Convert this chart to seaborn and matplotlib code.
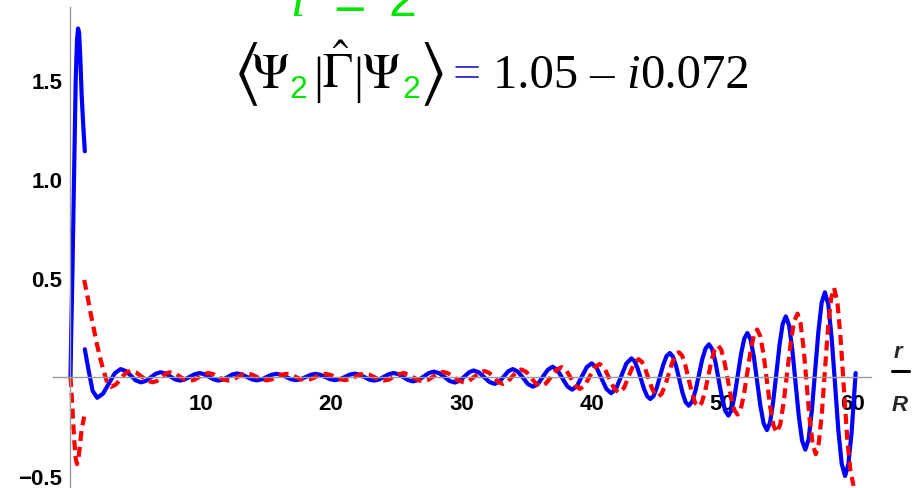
import matplotlib
matplotlib.use('Agg')
import matplotlib.pyplot as plt
from matplotlib.lines import Line2D
import seaborn as sns

# radial coordinate r/R; the branch inside the core (r < R) is kept apart
blue_in_x = [0.0, 0.05, 0.14, 0.27, 0.4, 0.5, 0.58, 0.66, 0.75, 0.86, 0.98, 1.1]
blue_in_y = [0.0, 0.2, 0.5, 1.0, 1.5, 1.7, 1.76, 1.74, 1.62, 1.42, 1.27, 1.14]

red_in_x = [0.0, 0.1, 0.2, 0.3, 0.4, 0.5, 0.6, 0.7, 0.85, 1.05]
red_in_y = [0.0, -0.1, -0.22, -0.33, -0.41, -0.44, -0.42, -0.36, -0.27, -0.2]

# outside the core (one row per half wave)
blue_out_x = [
    1.1, 1.4, 1.7, 2.05, 2.5, 2.95, 3.4, 3.85,
    4.24, 4.63, 5.01, 5.4, 5.78, 6.15, 6.53, 6.9,
    7.28, 7.65, 8.03, 8.4, 8.78, 9.15, 9.53, 9.9,
    10.26, 10.63, 10.99, 11.35, 11.71, 12.08, 12.44, 12.8,
    13.18, 13.55, 13.93, 14.3, 14.68, 15.05, 15.43, 15.8,
    16.18, 16.55, 16.93, 17.3, 17.68, 18.05, 18.43, 18.8,
    19.18, 19.55, 19.93, 20.3, 20.68, 21.05, 21.43, 21.8,
    22.18, 22.55, 22.93, 23.3, 23.68, 24.05, 24.43, 24.8,
    25.18, 25.55, 25.93, 26.3, 26.7, 27.1, 27.5, 27.9,
    28.3, 28.7, 29.1, 29.5, 29.86, 30.23, 30.59, 30.95,
    31.35, 31.75, 32.15, 32.55, 32.9, 33.25, 33.6, 33.95,
    34.34, 34.73, 35.11, 35.5, 35.88, 36.25, 36.63, 37.0,
    37.38, 37.75, 38.13, 38.5, 38.88, 39.25, 39.63, 40.0,
    40.38, 40.75, 41.13, 41.5, 41.89, 42.28, 42.66, 43.05,
    43.29, 43.53, 43.78, 44.02, 44.26, 44.5,
    44.75, 45.0, 45.25, 45.5, 45.75, 46.0,
    46.24, 46.48, 46.73, 46.97, 47.21, 47.45,
    47.71, 47.97, 48.23, 48.48, 48.74, 49.0,
    49.25, 49.5, 49.75, 50.0, 50.25, 50.5,
    50.74, 50.98, 51.23, 51.47, 51.71, 51.95,
    52.2, 52.45, 52.7, 52.95, 53.2, 53.45,
    53.69, 53.93, 54.18, 54.42, 54.66, 54.9,
    55.15, 55.4, 55.65, 55.9, 56.15, 56.4,
    56.65, 56.9, 57.15, 57.4, 57.65, 57.9,
    58.16, 58.42, 58.68, 58.93, 59.19, 59.45,
    59.7, 59.95, 60.15, 60.26]
blue_out_y = [
    0.14, 0.03, -0.07, -0.105, -0.084, -0.033, 0.019, 0.04,
    0.03, 0.007, -0.017, -0.027, -0.02, -0.002, 0.016, 0.024,
    0.018, 0.003, -0.012, -0.018, -0.012, 0.001, 0.014, 0.02,
    0.014, 0.001, -0.012, -0.018, -0.013, 0.0, 0.013, 0.018,
    0.012, 0.0, -0.012, -0.017, -0.012, 0.0, 0.011, 0.016,
    0.011, 0.0, -0.011, -0.016, -0.011, 0.0, 0.011, 0.016,
    0.011, 0.0, -0.011, -0.016, -0.011, 0.0, 0.012, 0.017,
    0.012, 0.0, -0.013, -0.018, -0.013, 0.001, 0.014, 0.02,
    0.014, -0.001, -0.016, -0.022, -0.015, 0.002, 0.02, 0.027,
    0.019, 0.0, -0.02, -0.028, -0.019, 0.002, 0.024, 0.033,
    0.023, -0.001, -0.025, -0.035, -0.024, 0.002, 0.029, 0.04,
    0.027, -0.004, -0.036, -0.049, -0.035, 0.001, 0.036, 0.052,
    0.035, -0.006, -0.047, -0.064, -0.045, 0.003, 0.05, 0.069,
    0.047, -0.007, -0.06, -0.082, -0.056, 0.006, 0.068, 0.094,
    0.08, 0.043, -0.009, -0.06, -0.097, -0.111,
    -0.096, -0.053, 0.005, 0.063, 0.106, 0.121,
    0.103, 0.055, -0.012, -0.079, -0.127, -0.145,
    -0.124, -0.068, 0.01, 0.088, 0.144, 0.165,
    0.141, 0.075, -0.015, -0.105, -0.171, -0.195,
    -0.167, -0.091, 0.014, 0.118, 0.194, 0.222,
    0.189, 0.1, -0.023, -0.146, -0.235, -0.268,
    -0.23, -0.125, 0.019, 0.163, 0.268, 0.306,
    0.261, 0.138, -0.031, -0.199, -0.322, -0.367,
    -0.314, -0.168, 0.031, 0.229, 0.375, 0.428,
    0.366, 0.196, -0.036, -0.268, -0.438, -0.5,
    -0.44, -0.28, -0.09, 0.02]

red_out_x = [
    1.05, 1.3, 1.55, 1.8, 2.05, 2.3, 2.55, 2.75, 2.95, 3.1,
    3.48, 3.85, 4.23, 4.6, 5.03, 5.45, 5.88, 6.3,
    6.64, 6.98, 7.31, 7.65, 8.03, 8.4, 8.78, 9.15,
    9.51, 9.88, 10.24, 10.6, 10.98, 11.35, 11.73, 12.1,
    12.46, 12.83, 13.19, 13.55, 13.93, 14.3, 14.68, 15.05,
    15.43, 15.8, 16.18, 16.55, 16.93, 17.3, 17.68, 18.05,
    18.43, 18.8, 19.18, 19.55, 19.93, 20.3, 20.68, 21.05,
    21.43, 21.8, 22.18, 22.55, 22.93, 23.3, 23.68, 24.05,
    24.43, 24.8, 25.18, 25.55, 25.93, 26.3, 26.68, 27.05,
    27.44, 27.83, 28.21, 28.6, 29.0, 29.4, 29.8, 30.2,
    30.6, 31.0, 31.4, 31.8, 32.15, 32.5, 32.85, 33.2,
    33.55, 33.9, 34.25, 34.6, 34.98, 35.35, 35.73, 36.1,
    36.5, 36.9, 37.3, 37.7, 38.05, 38.4, 38.75, 39.1,
    39.48, 39.85, 40.23, 40.6, 40.98, 41.35, 41.73, 42.1,
    42.48, 42.85, 43.23, 43.6,
    43.85, 44.1, 44.35, 44.6, 44.85, 45.1,
    45.37, 45.63, 45.9, 46.17, 46.43, 46.7,
    46.95, 47.2, 47.45, 47.7, 47.95, 48.2,
    48.45, 48.7, 48.95, 49.2, 49.45, 49.7,
    49.95, 50.2, 50.45, 50.7, 50.95, 51.2,
    51.45, 51.7, 51.95, 52.2, 52.45, 52.7,
    52.95, 53.2, 53.45, 53.7, 53.95, 54.2,
    54.47, 54.73, 55.0, 55.27, 55.53, 55.8,
    56.03, 56.27, 56.5, 56.73, 56.97, 57.2,
    57.43, 57.67, 57.9, 58.13, 58.37, 58.6,
    58.85, 59.1, 59.35, 59.6, 59.85, 60.1]
red_out_y = [
    0.49, 0.41, 0.32, 0.24, 0.16, 0.09, 0.03, -0.015, -0.042, -0.05,
    -0.038, -0.009, 0.02, 0.032, 0.023, 0.003, -0.018, -0.027,
    -0.02, -0.002, 0.017, 0.024, 0.018, 0.002, -0.014, -0.02,
    -0.014, 0.0, 0.014, 0.02, 0.014, 0.001, -0.012, -0.018,
    -0.013, 0.0, 0.013, 0.018, 0.012, 0.0, -0.012, -0.017,
    -0.012, 0.0, 0.011, 0.016, 0.011, 0.0, -0.011, -0.016,
    -0.011, 0.0, 0.011, 0.016, 0.011, 0.0, -0.011, -0.016,
    -0.011, 0.0, 0.012, 0.017, 0.012, 0.0, -0.013, -0.018,
    -0.013, 0.001, 0.014, 0.02, 0.014, -0.001, -0.016, -0.022,
    -0.015, 0.002, 0.018, 0.026, 0.018, 0.0, -0.019, -0.027,
    -0.019, 0.002, 0.021, 0.03, 0.02, -0.003, -0.026, -0.035,
    -0.025, 0.002, 0.027, 0.038, 0.026, -0.004, -0.034, -0.046,
    -0.032, 0.002, 0.036, 0.05, 0.034, -0.005, -0.044, -0.06,
    -0.042, 0.003, 0.048, 0.066, 0.045, -0.007, -0.059, -0.08,
    -0.055, 0.005, 0.065, 0.09,
    0.077, 0.043, -0.005, -0.053, -0.087, -0.1,
    -0.085, -0.044, 0.013, 0.069, 0.11, 0.125,
    0.107, 0.056, -0.013, -0.081, -0.132, -0.15,
    -0.129, -0.073, 0.005, 0.083, 0.139, 0.16,
    0.137, 0.073, -0.015, -0.103, -0.167, -0.19,
    -0.161, -0.083, 0.025, 0.133, 0.211, 0.24,
    0.205, 0.11, -0.02, -0.15, -0.245, -0.28,
    -0.24, -0.13, 0.02, 0.17, 0.28, 0.32,
    0.272, 0.143, -0.035, -0.213, -0.342, -0.39,
    -0.334, -0.18, 0.03, 0.24, 0.394, 0.45,
    0.383, 0.2, -0.05, -0.3, -0.47, -0.55]

x_major = [10, 20, 30, 40, 50, 60]
x_labels = ['10', '20', '30', '40', '50', '60']
x_minor = [2, 4, 6, 8, 12, 14, 16, 18, 22, 24, 26, 28, 32, 34, 36, 38, 42, 44, 46, 48,
           52, 54, 56, 58]
y_major = [-0.5, 0.5, 1.0, 1.5]
y_labels = ['\u22120.5', '0.5', '1.0', '1.5']
y_minor = [-0.4, -0.3, -0.2, -0.1, 0.1, 0.2, 0.3, 0.4, 0.6, 0.7, 0.8, 0.9, 1.1, 1.2,
           1.3, 1.4, 1.6, 1.7, 1.8]

sns.set_style('white')
plt.rcParams['font.family'] = ['Liberation Sans', 'DejaVu Sans']
plt.rcParams['mathtext.fontset'] = 'stix'

W, H = 913, 489
fig = plt.figure(figsize=(W / 100, H / 100), dpi=100)
ax = fig.add_axes([52.9 / W, 0, (870.5 - 52.9) / W, 481 / H])

blue = '#0000ff'
red = '#ff0000'
dash = (0, (2.4, 1.4))
sns.lineplot(x=blue_in_x, y=blue_in_y, ax=ax, color=blue, linewidth=3, estimator=None, sort=False)
sns.lineplot(x=blue_out_x, y=blue_out_y, ax=ax, color=blue, linewidth=3, estimator=None, sort=False)
sns.lineplot(x=red_in_x, y=red_in_y, ax=ax, color=red, linewidth=3, estimator=None, sort=False,
             linestyle=dash)
sns.lineplot(x=red_out_x, y=red_out_y, ax=ax, color=red, linewidth=3, estimator=None, sort=False,
             linestyle=dash)

ax.set_xlim(-1.35, 61.4)
ax.set_ylim(-0.5606, 1.8687)
ax.patch.set_alpha(0)

for side in ['top', 'right']:
    ax.spines[side].set_visible(False)
for side in ['left', 'bottom']:
    ax.spines[side].set_position(('data', 0))
    ax.spines[side].set_color('#9a9a9a')
    ax.spines[side].set_linewidth(1)

ax.set_xticks(x_major)
ax.set_xticklabels(x_labels)
ax.set_xticks(x_minor, minor=True)
ax.set_yticks(y_major)
ax.set_yticklabels(y_labels)
ax.set_yticks(y_minor, minor=True)
ax.tick_params(which='both', direction='in', color='#9a9a9a', labelcolor='black', width=1)
ax.tick_params(which='major', length=4.3)
ax.tick_params(which='minor', length=2.9)
ax.tick_params(axis='x', which='major', pad=11.5)
ax.tick_params(axis='y', which='major', pad=6)
for lab in ax.get_xticklabels() + ax.get_yticklabels():
    lab.set_fontweight('bold')
    lab.set_fontsize(16)

# axis label r/R drawn as a small fraction
fig.text(898 / W, 1 - 358 / H, 'r', fontsize=16, fontweight='bold', style='italic',
         ha='center', va='baseline')
fig.add_artist(Line2D([892 / W, 909 / W], [1 - 371.7 / H, 1 - 371.7 / H],
                      transform=fig.transFigure, color='black', linewidth=2.2))
fig.text(900 / W, 1 - 411 / H, 'R', fontsize=16, fontweight='bold', style='italic',
         ha='center', va='baseline')

# header text, placed piece by piece (pixel coords from the top left)
green = '#00e600'
renderer = fig.canvas.get_renderer()


def put(x, y, s, **kw):
    t = fig.text(x / W, 1 - y / H, s, ha='left', va='baseline', **kw)
    return x + t.get_window_extent(renderer).width


put(290, 16, 'l', fontsize=38, color=green, family='Liberation Serif', style='italic')
put(333, 20, '=', fontsize=40, color=green, family='Liberation Sans')
put(388, 16, '2', fontsize=36, color=green, family='Liberation Sans')

put(233, 91, r'$\langle$', fontsize=50, color='black')
put(251, 88, r'$\Psi$', fontsize=36, color='black')
put(289, 98, '2', fontsize=23, color=green, family='Liberation Sans')
put(313, 92, '|', fontsize=36, color='black', family='Liberation Serif')
put(322, 88, r'$\hat{\Gamma}$', fontsize=36, color='black')
put(353, 92, '|', fontsize=36, color='black', family='Liberation Serif')
put(362, 88, r'$\Psi$', fontsize=36, color='black')
put(402, 98, '2', fontsize=23, color=green, family='Liberation Sans')
put(419, 91, r'$\rangle$', fontsize=50, color='black')
put(452, 88, '=', fontsize=36, color='#3a3acc', family='Liberation Serif')
x = put(493, 88, '1.05 \u2013 ', fontsize=35, color='black', family='Liberation Serif')
x = put(x, 88, 'i', fontsize=35, color='black', family='Liberation Serif', style='italic')
put(x, 88, '0.072', fontsize=35, color='black', family='Liberation Serif')

fig.savefig('out.png', dpi=100)
